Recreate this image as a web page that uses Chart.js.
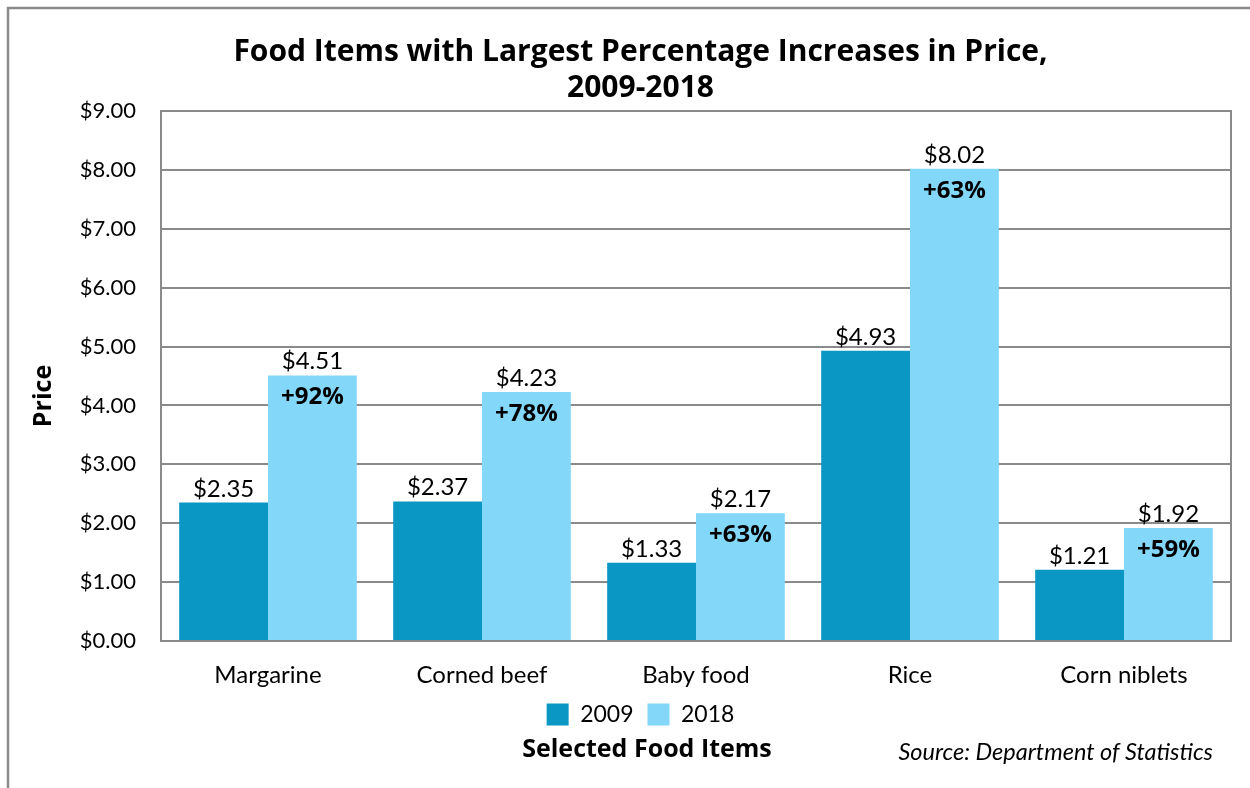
<!DOCTYPE html>
<html>
<head>
<meta charset="utf-8">
<script src="https://cdn.jsdelivr.net/npm/chart.js@4.4.1/dist/chart.umd.min.js"></script>
<style>
  html, body { margin: 0; padding: 0; background: #fff; }
</style>
</head>
<body>
<canvas id="chart" width="1250" height="788"></canvas>
<script>
const categories = ["Margarine", "Corned beef", "Baby food", "Rice", "Corn niblets"];
const price2009 = [2.35, 2.37, 1.33, 4.93, 1.21];
const price2018 = [4.51, 4.23, 2.17, 8.02, 1.92];
const pctChange = ["+92%", "+78%", "+63%", "+63%", "+59%"];
const yTicks = [0, 1, 2, 3, 4, 5, 6, 7, 8, 9];

const FONT = "Lato, 'Open Sans', sans-serif";
const BOLD = "'Open Sans', Lato, sans-serif";
const gray = "#8a8a8a";

const decorations = {
  id: "decorations",
  beforeDatasetsDraw(chart) {
    const { ctx, chartArea: a } = chart;
    ctx.save();
    ctx.strokeStyle = gray;
    ctx.lineWidth = 2;
    ctx.strokeRect(a.left, a.top, a.right - a.left, a.bottom - a.top);
    // outer figure frame
    ctx.lineWidth = 2.5;
    ctx.beginPath();
    ctx.moveTo(8, 788);
    ctx.lineTo(8, 8);
    ctx.lineTo(1250, 8);
    ctx.stroke();
    ctx.restore();
  },
  afterDatasetsDraw(chart) {
    const { ctx } = chart;
    ctx.save();
    ctx.fillStyle = "#000";
    ctx.textAlign = "center";
    ctx.textBaseline = "alphabetic";
    chart.data.datasets.forEach((ds, i) => {
      chart.getDatasetMeta(i).data.forEach((bar, j) => {
        ctx.font = "24px " + FONT;
        ctx.fillText("$" + ds.data[j].toFixed(2), bar.x, bar.y - 6);
        if (i === 1) {
          ctx.font = "bold 24px " + BOLD;
          ctx.fillText(pctChange[j], bar.x, bar.y + 29);
        }
      });
    });
    ctx.restore();
  },
  afterDraw(chart) {
    const { ctx } = chart;
    ctx.save();
    ctx.fillStyle = "#000";
    ctx.textBaseline = "middle";
    ctx.font = "bold 25px " + BOLD;
    ctx.textAlign = "center";
    ctx.fillText("Selected Food Items", 647, 750);
    ctx.save();
    ctx.translate(44, 396);
    ctx.rotate(-Math.PI / 2);
    ctx.fillText("Price", 0, 0);
    ctx.restore();
    ctx.font = "italic 23.5px " + FONT;
    ctx.textAlign = "right";
    ctx.fillText("Source: Department of Statistics", 1213, 752);
    ctx.restore();
  }
};

new Chart(document.getElementById("chart"), {
  type: "bar",
  data: {
    labels: categories,
    datasets: [
      {
        label: "2009",
        data: price2009,
        backgroundColor: "#0b97c4",
        categoryPercentage: 0.83,
        barPercentage: 1.0
      },
      {
        label: "2018",
        data: price2018,
        backgroundColor: "#83d7f8",
        categoryPercentage: 0.83,
        barPercentage: 1.0
      }
    ]
  },
  options: {
    responsive: false,
    animation: false,
    layout: { padding: { top: 10, left: 50, right: 19, bottom: 52 } },
    plugins: {
      title: {
        display: true,
        text: ["Food Items with Largest Percentage Increases in Price,", "2009-2018"],
        color: "#000",
        font: { family: BOLD, size: 30, weight: "bold", lineHeight: 1.2 },
        padding: { top: 24, bottom: 5 }
      },
      legend: {
        position: "bottom",
        labels: {
          color: "#000",
          font: { family: FONT, size: 23 },
          boxWidth: 22,
          boxHeight: 22,
          padding: 14
        }
      },
      tooltip: { enabled: false }
    },
    scales: {
      x: {
        grid: { display: false, drawTicks: false },
        border: { display: false },
        ticks: { color: "#000", font: { family: FONT, size: 24 }, padding: 20 },
        afterFit(scale) { scale.height = 48; }
      },
      y: {
        min: 0,
        max: 9,
        afterBuildTicks(scale) { scale.ticks = yTicks.map(v => ({ value: v })); },
        grid: { color: gray, lineWidth: 2, drawTicks: false },
        border: { display: false },
        ticks: {
          color: "#000",
          font: { family: FONT, size: 22 },
          padding: 25,
          callback: (v) => "$" + Number(v).toFixed(2)
        },
        afterFit(scale) { scale.width = 111; }
      }
    }
  },
  plugins: [decorations]
});
</script>
</body>
</html>
